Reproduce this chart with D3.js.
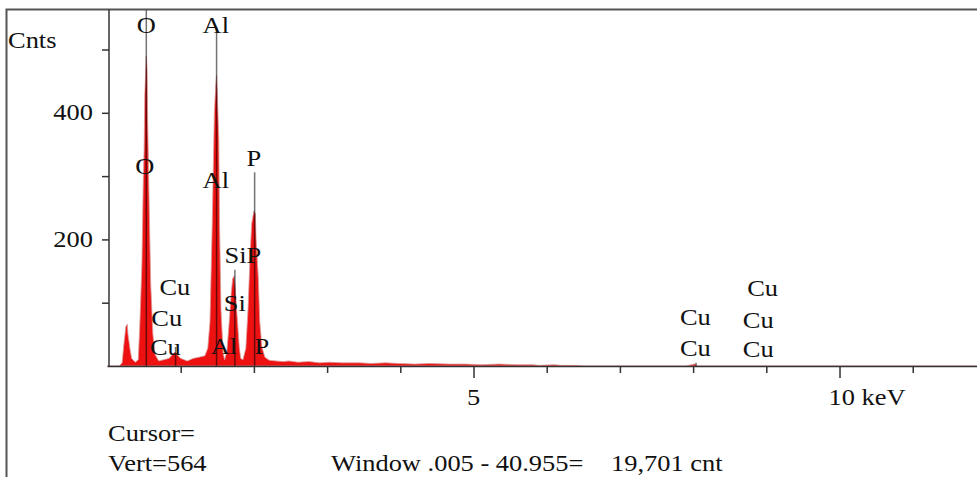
<!DOCTYPE html>
<html>
<head>
<meta charset="utf-8">
<script src="https://cdn.jsdelivr.net/npm/d3@7"></script>
<style>
  body { margin: 0; background: #fff; }
  svg text { font-family: "Liberation Serif", "Times New Roman", serif; font-size: 23px; fill: #111; }
</style>
</head>
<body>
<svg id="chart" width="977" height="477"></svg>
<script>
// spectrum: energy (keV) and counts
const energy = [0, 0.16, 0.2, 0.22, 0.25, 0.27, 0.28, 0.31, 0.33, 0.38, 0.42, 0.44, 0.47, 0.49, 0.5, 0.51, 0.53, 0.54, 0.55, 0.57, 0.59, 0.62, 0.65,
  0.7, 0.77, 0.84, 0.89, 0.92, 0.95, 1.0, 1.09, 1.17, 1.25, 1.33, 1.37, 1.4, 1.43, 1.46, 1.48, 1.49, 1.5, 1.52, 1.53, 1.55, 1.58,
  1.6, 1.63, 1.66, 1.69, 1.71, 1.73, 1.74, 1.77, 1.8, 1.82, 1.85, 1.89, 1.92, 1.95, 1.97, 2.0, 2.02, 2.03, 2.06, 2.08, 2.11, 2.15,
  2.21, 2.3, 2.4, 2.48, 2.6, 2.75, 2.9, 3.03, 3.2, 3.44, 3.6, 3.8, 3.98, 4.2, 4.4, 4.66, 4.9, 5.1, 5.35, 5.6, 5.8, 5.9, 6.1, 6.2, 6.4, 6.5, 6.6, 7.9, 8.02, 8.06, 8.2, 11.9];
const counts = [0, 0, 5, 30, 62, 66, 50, 25, 12, 6, 10, 60, 160, 300, 340, 430, 490, 470, 380, 250, 130, 50, 18,
  8, 10, 12, 18, 22, 18, 12, 8, 12, 14, 16, 28, 70, 220, 400, 445, 459, 430, 360, 230, 90, 20,
  10, 22, 65, 115, 138, 142, 132, 80, 30, 12, 10, 28, 90, 180, 225, 245, 240, 200, 140, 70, 30, 14,
  9, 8, 7, 8, 6, 7, 5, 6, 5, 5, 4, 5, 4, 3, 4, 3, 3, 2, 3, 2, 2, 1, 2, 1, 1, 0, 0, 0, 3, 0, 0, 0];

// element markers: energy and the height the marker reaches
const markerEnergy = [0.53, 1.49, 1.74, 2.01, 0.93, 8.04];
const markerTop = [564, 535, 152, 306, 30, 5];

// peak labels: text, energy, count level
const labelText = ["O", "Al", "O", "Al", "P", "SiP", "Si", "Cu", "Cu", "Cu", "Al", "P", "Cu", "Cu", "Cu", "Cu", "Cu"];
const labelEnergy = [0.53, 1.48, 0.51, 1.48, 2.0, 1.85, 1.74, 0.92, 0.81, 0.79, 1.59, 2.11, 8.03, 8.03, 8.95, 8.89, 8.89];
const labelCount = [539, 539, 316, 294, 329, 175, 100, 125, 76, 30, 32, 32, 77, 28, 123, 73, 27];

const xTicks = [1, 2, 3, 4, 5, 6, 7, 8, 9, 10, 11];
const xTickLabels = {5: "5", 10: "10 keV"};
const yTicks = [100, 200, 300, 400, 500];
const yTickLabels = {200: "200", 400: "400"};

const cursorText = "Cursor=";
const vertText = "Vert=564";
const windowText = "Window .005 - 40.955=";
const totalText = "19,701 cnt";

const svg = d3.select("#chart");
const x = d3.scaleLinear().domain([0, 11.9]).range([107.5, 978.6]);
const y = d3.scaleLinear().domain([0, 564]).range([366, 9]);
const SX = 1.15; // text in the picture is stretched sideways

function stretchedText(g, tx, ty, str, anchor) {
  return g.append("text")
    .attr("transform", `translate(${tx},${ty}) scale(${SX},1)`)
    .attr("text-anchor", anchor || "start")
    .text(str);
}

const spectrum = energy.map((e, i) => ({e: e, c: counts[i]}));

// red filled spectrum
const area = d3.area().x(d => x(d.e)).y0(y(0)).y1(d => y(d.c));
svg.append("path")
  .datum(spectrum)
  .attr("d", area)
  .attr("fill", "#ee1111")
  .attr("stroke", "#d99a9a")
  .attr("stroke-width", 0.8);

// marker lines
svg.selectAll(".marker")
  .data(markerEnergy)
  .enter().append("line")
  .attr("class", "marker")
  .attr("x1", d => x(d)).attr("x2", d => x(d))
  .attr("y1", y(0))
  .attr("y2", (d, i) => y(markerTop[i]))
  .attr("stroke", "#000")
  .attr("stroke-opacity", 0.55)
  .attr("stroke-width", 1.5);

// outer frame
svg.append("path")
  .attr("d", "M6.5,477 V9.5 H977")
  .attr("fill", "none")
  .attr("stroke", "#555")
  .attr("stroke-width", 2);

// axes
const xAxis = svg.append("g")
  .attr("transform", `translate(0,${y(0)})`)
  .call(d3.axisBottom(x).tickValues(xTicks).tickSizeOuter(0).tickFormat(""));
xAxis.select(".domain").attr("stroke", "#333").attr("stroke-width", 1.5)
  .attr("d", `M${x(0)},0.5H977`);
xAxis.selectAll(".tick line")
  .attr("stroke", "#333").attr("stroke-width", 1.5)
  .attr("y2", d => (d % 5 === 0 ? 12 : 7));

const yAxis = svg.append("g")
  .attr("transform", `translate(${x(0) + 1.5},0)`)
  .call(d3.axisLeft(y).tickValues(yTicks).tickSizeOuter(0).tickFormat(""));
yAxis.select(".domain").attr("stroke", "#333").attr("stroke-width", 1.5)
  .attr("d", `M0,${y(0) + 1}V9.5`);
yAxis.selectAll(".tick line")
  .attr("stroke", "#333").attr("stroke-width", 1.5)
  .attr("x2", -7);

const labels = svg.append("g");
xTicks.filter(t => xTickLabels[t]).forEach(t => {
  const str = xTickLabels[t];
  stretchedText(labels, str === "5" ? x(t) : x(t) - 11, 405, str, str === "5" ? "middle" : "start");
});
yTicks.filter(t => yTickLabels[t]).forEach(t => {
  stretchedText(labels, 93, y(t) + 7.5, yTickLabels[t], "end");
});
stretchedText(labels, 8, 48, "Cnts");

// peak labels
labelText.forEach((t, i) => {
  stretchedText(labels, x(labelEnergy[i]), y(labelCount[i]) + 8, t, "middle");
});

// status text under the chart
stretchedText(labels, 108, 441, cursorText);
stretchedText(labels, 108, 471, vertText);
stretchedText(labels, 331, 471, windowText);
stretchedText(labels, 611, 471, totalText);
</script>
</body>
</html>
